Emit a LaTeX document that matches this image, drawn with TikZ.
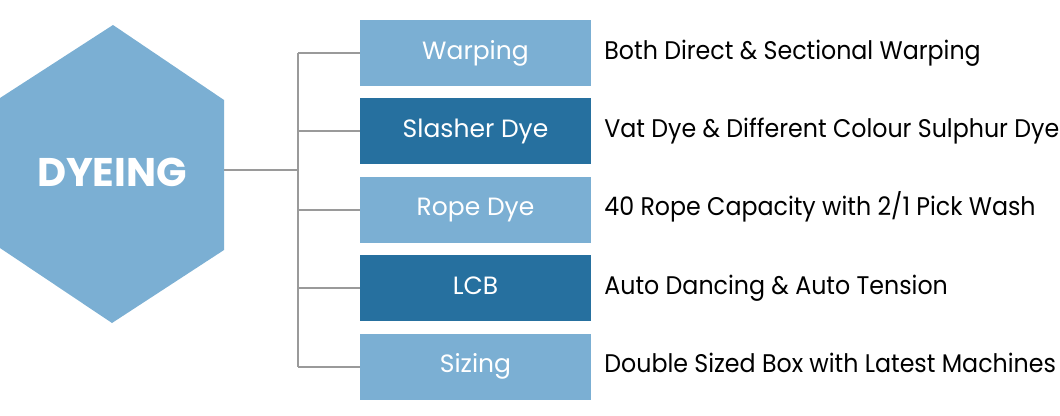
\documentclass[tikz,border=0pt]{standalone}
\usepackage{fontspec}
\setmainfont{Poppins}
\newfontfamily\notefont{Poppins}[FakeStretch=0.93]
\usepackage{xcolor}
\usepackage{tikz}
\usetikzlibrary{positioning,calc}

\definecolor{lightblue}{HTML}{7BAFD3}
\definecolor{darkblue}{HTML}{26709F}
\definecolor{linegray}{HTML}{9A9A9A}

\begin{document}
\begin{tikzpicture}[x=1pt, y=-1pt, node distance=12pt,
    stage/.style={rectangle, fill=lightblue, text=white, minimum width=231pt, minimum height=66pt, inner sep=0pt, text height=18pt, text depth=6pt, font=\fontsize{25}{28}\selectfont},
    stagedark/.style={stage, fill=darkblue},
    note/.style={anchor=west, inner sep=0pt, text height=18pt, text depth=6pt, font=\notefont\fontsize{25.5}{28}\selectfont},
    line/.style={draw=linegray, line width=2pt}]
    \useasboundingbox (0,0) rectangle (1060,415);

    % hexagon
    \fill[lightblue] (113,25) -- (224,100) -- (224,250) -- (112,323) -- (0,248) -- (0,98) -- cycle;
    \node [text=white, font=\fontsize{40}{44}\selectfont\bfseries] (dye) at (112,172) {DYEING};
    \coordinate (hexR) at (224,170);
    \coordinate (junc) at (298,170);

    \node [stage] (warp) at (475.5,53) {Warping};
    \node [stagedark, below=of warp] (slash) {Slasher Dye};
    \node [stage, below=of slash] (rope) {Rope Dye};
    \node [stagedark, below=of rope] (lcb) {LCB};
    \node [stage, below=of lcb] (size) {Sizing};

    \node [note, right=13pt of warp] (nwarp) {Both Direct \& Sectional Warping};
    \node [note, right=13pt of slash] (nslash) {Vat Dye \& Different Colour Sulphur Dye};
    \node [note, right=13pt of rope] (nrope) {40 Rope Capacity with 2/1 Pick Wash};
    \node [note, right=13pt of lcb] (nlcb) {Auto Dancing \& Auto Tension};
    \node [note, right=13pt of size] (nsize) {Double Sized Box with Latest Machines};

    \path [line] (hexR) -- (junc);
    \path [line] (junc |- warp.west) -- (junc |- size.west);
    \foreach \b in {warp,slash,rope,lcb,size}
        \path [line] (junc |- \b.west) -- (\b.west);
\end{tikzpicture}
\end{document}
